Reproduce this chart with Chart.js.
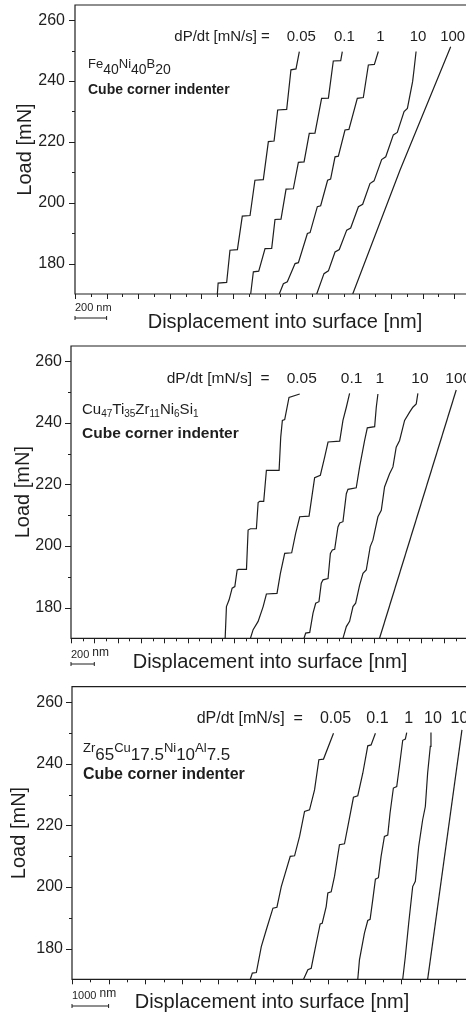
<!DOCTYPE html>
<html>
<head>
<meta charset="utf-8">
<script src="https://cdn.jsdelivr.net/npm/chart.js@4.4.1/dist/chart.umd.min.js"></script>
<style>
  html, body { margin: 0; padding: 0; background: #fff; overflow: hidden; }
  canvas { display: block; }
</style>
</head>
<body>
<canvas id="fe" width="466" height="340"></canvas>
<canvas id="cu" width="466" height="340"></canvas>
<canvas id="zr" width="466" height="335"></canvas>
<script>
/* Load–displacement curves at five loading rates, three glasses */

var INK = '#1e1e1e';
var FONT = '"Liberation Sans", Arial, Helvetica, sans-serif';

var RATES = ['0.05', '0.1', '1', '10', '100'];
var LOAD_MIN = 170;
var LOAD_MAX = 265;
var LOAD_STEP = 10;
var RATE_LABEL_LOAD = 254.5;

// --- Fe40Ni40B20 (displacement in nm, load in mN) ---
var feX005 = [901, 906, 960, 981, 1028, 1059, 1108, 1139, 1192, 1224, 1260, 1283, 1340, 1367, 1399, 1420];
var feY005 = [170, 173.6, 173.8, 184.4, 184.6, 195.6, 195.8, 207.4, 207.6, 220.1, 220.3, 230.5, 230.7, 243.7, 244, 249.7];
var feX01 = [1112, 1129, 1163, 1203, 1245, 1266, 1304, 1336, 1382, 1414, 1450, 1483, 1519, 1561, 1604, 1635, 1682, 1692];
var feY01 = [170, 177.3, 177.5, 184.9, 185, 194.5, 194.6, 204.5, 204.6, 213.3, 213.4, 222.8, 222.9, 234.3, 234.4, 246.6, 246.7, 249.7];
var feX1 = [1293, 1319, 1344, 1393, 1414, 1471, 1488, 1534, 1555, 1599, 1618, 1646, 1667, 1709, 1734, 1787, 1825, 1857, 1895, 1920];
var feY1 = [170, 173.4, 174, 180, 180.3, 189.9, 190.2, 198.7, 199, 207.4, 207.8, 215.1, 215.3, 223.9, 224.1, 234.3, 234.6, 245.3, 245.5, 249.7];
var feX10 = [1530, 1576, 1604, 1646, 1673, 1720, 1745, 1794, 1821, 1867, 1893, 1941, 1967, 2015, 2040, 2083, 2104, 2137, 2146, 2159];
var feY10 = [170, 176.7, 177.6, 183.8, 184.6, 191, 191.7, 198.7, 199.5, 206.3, 207.2, 214.2, 215.1, 222.3, 223.1, 230, 231, 239.8, 243.7, 249.7];
var feX100 = [1758, 2057, 2378];
var feY100 = [170, 210.7, 251.3];

// --- Cu47Ti35Zr11Ni6Si1 ---
var cuX005 = [1323, 1334, 1357, 1383, 1406, 1426, 1440, 1506, 1520, 1540, 1591, 1606, 1620, 1654, 1677, 1786, 1800, 1814, 1834, 1871, 1963];
var cuY005 = [170, 180.3, 182.5, 186.3, 186.8, 192.2, 192.4, 192.4, 205.2, 205.6, 205.6, 214.1, 214.5, 214.5, 224.6, 224.6, 235.4, 240.8, 241.1, 248.3, 249.4];
var cuX01 = [1540, 1563, 1606, 1649, 1677, 1768, 1797, 1834, 1894, 1928, 1963, 2043, 2063, 2091, 2140, 2177, 2206, 2306, 2334, 2363, 2391];
var cuY01 = [170, 172.8, 175.5, 180.3, 184.4, 184.6, 191.1, 197.6, 197.8, 204.1, 209.5, 209.7, 214.9, 222.2, 223, 228.9, 233.8, 234.1, 240.8, 245.1, 249.6];
var cuX1 = [2000, 2014, 2049, 2077, 2100, 2128, 2148, 2163, 2206, 2226, 2243, 2263, 2291, 2306, 2334, 2363, 2377, 2448, 2477, 2520, 2543, 2606, 2620, 2634];
var cuY1 = [170, 171.7, 171.9, 178.2, 181.4, 181.9, 187.9, 189, 189.4, 197.6, 198.7, 198.9, 206.2, 207.5, 207.9, 217, 218.4, 218.9, 225.7, 234.3, 238.4, 238.8, 245.1, 249.4];
var cuX10 = [2334, 2363, 2391, 2420, 2443, 2477, 2506, 2534, 2568, 2591, 2634, 2663, 2691, 2734, 2763, 2791, 2820, 2863, 2906, 2934, 2963, 2977];
var cuY10 = [170, 173.8, 175.5, 180.3, 181.4, 187.3, 191.1, 192.2, 199.8, 201.9, 209.5, 211.6, 219.2, 223.5, 225.7, 232.1, 234.3, 240.8, 243.5, 245.1, 246.2, 249.6];
var cuX100 = [2648, 3306];
var cuY100 = [170, 250.7];

// --- Zr65Cu17.5Ni10Al7.5 ---
var zrX005 = [4872, 4927, 5036, 5172, 5309, 5490, 5599, 5718, 5963, 6081, 6218, 6354, 6490, 6627, 6745, 6872, 7145];
var zrY005 = [170, 172, 172.2, 180.6, 186.1, 193.1, 193.4, 200.1, 209.9, 210.1, 216.4, 224.5, 225, 231.5, 241.3, 241.5, 249.9];
var zrX01 = [6327, 6445, 6536, 6672, 6781, 6836, 6945, 6990, 7081, 7172, 7308, 7445, 7536, 7690, 7808, 7945, 8081, 8172, 8290];
var zrY01 = [170, 173.1, 173.6, 181.7, 188, 188.2, 193.6, 198, 198.4, 203.4, 213.7, 214, 219.6, 229.1, 229.6, 236.9, 245.8, 246.1, 249.9];
var zrX1 = [7808, 7854, 7990, 8081, 8145, 8217, 8290, 8372, 8445, 8536, 8627, 8690, 8781, 8872, 8945, 9036, 9108, 9145];
var zrY1 = [170, 176.3, 185, 189.1, 189.5, 195.8, 202.5, 203, 209.9, 216.4, 216.8, 224, 232.1, 232.6, 239.1, 247.6, 248, 250.1];
var zrX10 = [9036, 9108, 9199, 9308, 9381, 9472, 9581, 9654, 9717, 9763, 9790, 9808];
var zrY10 = [170, 177.4, 188.2, 200.1, 201.8, 213.1, 221.8, 226.1, 237, 242.4, 245.6, 250.1];
var zrX100 = [9717, 10654];
var zrY100 = [170, 251];

// alloy names: [text, isSubscript]
var FE_FORMULA = [['Fe', 0], ['40', 1], ['Ni', 0], ['40', 1], ['B', 0], ['20', 1]];
var CU_FORMULA = [['Cu', 0], ['47', 1], ['Ti', 0], ['35', 1], ['Zr', 0], ['11', 1], ['Ni', 0], ['6', 1], ['Si', 0], ['1', 1]];
var ZR_FORMULA = [['Zr', 0], ['65', 1], ['Cu', 0], ['17.5', 1], ['Ni', 0], ['10', 1], ['Al', 0], ['7.5', 1]];

function toPoints(xs, ys) {
  return xs.map(function (x, i) { return { x: x, y: ys[i] }; });
}

function font(size, bold) {
  return (bold ? 'bold ' : '') + size + 'px ' + FONT;
}

var decorPlugin = {
  id: 'decor',
  afterDraw: function (chart, args, o) {
    var ctx = chart.ctx, a = chart.chartArea;
    var xs = chart.scales.x, ys = chart.scales.y;
    ctx.save();
    ctx.strokeStyle = INK;
    ctx.fillStyle = INK;
    ctx.lineWidth = 1.2;

    // frame: top, left, bottom (right edge is cut off)
    ctx.beginPath();
    ctx.moveTo(a.right, a.top);
    ctx.lineTo(a.left, a.top);
    ctx.lineTo(a.left, a.bottom);
    ctx.lineTo(a.right, a.bottom);
    ctx.stroke();

    // y tick marks, outward
    ctx.lineWidth = 1;
    ctx.beginPath();
    for (var v = LOAD_MIN + LOAD_STEP; v <= 260; v += LOAD_STEP) {
      var py = Math.round(ys.getPixelForValue(v)) + 0.5;
      var len = v % 20 === 0 ? 6 : 3;
      ctx.moveTo(a.left - len, py);
      ctx.lineTo(a.left, py);
    }
    // x tick marks, outward, no labels
    for (var i = 0; ; i++) {
      var d = i * o.minorStep;
      var px = Math.round(xs.getPixelForValue(d)) + 0.5;
      if (px > a.right) break;
      ctx.moveTo(px, a.bottom);
      ctx.lineTo(px, a.bottom + (i % 2 === 0 ? 5 : 3));
    }
    ctx.stroke();

    // scale bar
    var sb = o.scaleBar;
    var x0 = xs.getPixelForValue(0), x1 = xs.getPixelForValue(sb.nm);
    ctx.beginPath();
    ctx.moveTo(x0, sb.barY); ctx.lineTo(x1, sb.barY);
    ctx.moveTo(x0, sb.barY - 2); ctx.lineTo(x0, sb.barY + 2);
    ctx.moveTo(x1, sb.barY - 2); ctx.lineTo(x1, sb.barY + 2);
    ctx.stroke();
    ctx.textAlign = 'left';
    ctx.textBaseline = 'alphabetic';
    ctx.font = font(sb.size);
    ctx.fillText(sb.num, x0, sb.textY);
    var w = ctx.measureText(sb.num).width;
    ctx.font = font(sb.unitSize);
    ctx.fillText('nm', x0 + w + sb.gap, sb.textY - sb.unitRaise);

    // x axis title
    ctx.font = font(20);
    ctx.textAlign = 'center';
    ctx.fillText('Displacement into surface [nm]', o.xTitle.x, o.xTitle.y);

    // loading-rate labels above each curve
    ctx.font = font(o.rateSize);
    ctx.textBaseline = 'middle';
    var ly = ys.getPixelForValue(RATE_LABEL_LOAD);
    var firstLeft = 0;
    chart.data.datasets.forEach(function (ds, k) {
      var last = ds.data[ds.data.length - 1];
      var cx = xs.getPixelForValue(last.x) + 2;
      ctx.textAlign = 'center';
      ctx.fillText(RATES[k], cx, ly);
      if (k === 0) firstLeft = cx - ctx.measureText(RATES[k]).width / 2;
    });
    ctx.textAlign = 'right';
    ctx.fillText(o.rateText, firstLeft - 17, ly);

    // alloy composition
    var f = o.formula, fx = f.x;
    ctx.textAlign = 'left';
    ctx.textBaseline = 'alphabetic';
    f.parts.forEach(function (p) {
      ctx.font = font(p[1] ? f.subSize : f.elSize);
      ctx.fillText(p[0], fx, f.y + (p[1] ? f.drop : 0));
      fx += ctx.measureText(p[0]).width;
    });

    ctx.font = font(o.indenter.size, true);
    ctx.fillText('Cube corner indenter', o.indenter.x, o.indenter.y);
    ctx.restore();
  }
};

function makePanel(canvasId, p) {
  var el = document.getElementById(canvasId);
  var datasets = p.curves.map(function (c, i) {
    return {
      label: RATES[i] + ' mN/s',
      data: toPoints(c[0], c[1]),
      borderColor: INK,
      borderWidth: 1.2,
      pointRadius: 0,
      tension: 0,
      fill: false
    };
  });
  return new Chart(el, {
    type: 'line',
    data: { datasets: datasets },
    options: {
      responsive: false,
      animation: false,
      layout: { padding: { left: 0, right: 0, top: p.top, bottom: p.bottom } },
      plugins: {
        legend: { display: false },
        tooltip: { enabled: false },
        decor: p.decor
      },
      scales: {
        x: { type: 'linear', display: false, min: 0, max: p.xMax },
        y: {
          type: 'linear',
          min: LOAD_MIN,
          max: LOAD_MAX,
          afterFit: function (s) {
            s.width = p.left;
            s.paddingTop = 0;
            s.paddingBottom = 0;
          },
          grid: { display: false, drawTicks: false },
          border: { display: false },
          ticks: {
            stepSize: LOAD_STEP,
            includeBounds: false,
            color: INK,
            font: { family: FONT, size: 16 },
            padding: p.tickPad,
            callback: function (v) { return v % 20 === 0 ? v : ''; }
          },
          title: {
            display: true,
            text: 'Load [mN]',
            color: INK,
            font: { family: FONT, size: 20 },
            padding: { top: p.titlePad, bottom: 0 }
          }
        }
      }
    },
    plugins: [decorPlugin]
  });
}

makePanel('fe', {
  left: 75, top: 5, bottom: 46, xMax: 2475, tickPad: 10, titlePad: 13,
  curves: [[feX005, feY005], [feX01, feY01], [feX1, feY1], [feX10, feY10], [feX100, feY100]],
  decor: {
    minorStep: 100,
    scaleBar: { nm: 200, num: '200', size: 11, unitSize: 11, gap: 3, unitRaise: 0, textY: 311, barY: 318 },
    xTitle: { x: 285, y: 328 },
    rateSize: 15, rateText: 'dP/dt [mN/s] =',
    formula: { x: 88, y: 68, parts: FE_FORMULA, elSize: 13, subSize: 14, drop: 6 },
    indenter: { x: 88, y: 94, size: 14 }
  }
});

makePanel('cu', {
  left: 71, top: 6, bottom: 41.7, xMax: 3390, tickPad: 9, titlePad: 11.5,
  curves: [[cuX005, cuY005], [cuX01, cuY01], [cuX1, cuY1], [cuX10, cuY10], [cuX100, cuY100]],
  decor: {
    minorStep: 100,
    scaleBar: { nm: 200, num: '200', size: 11, unitSize: 12, gap: 3, unitRaise: 2, textY: 318, barY: 324 },
    xTitle: { x: 270, y: 328 },
    rateSize: 15.5, rateText: 'dP/dt [mN/s]  =',
    formula: { x: 82, y: 74, parts: CU_FORMULA, elSize: 15, subSize: 10, drop: 3 },
    indenter: { x: 82, y: 98, size: 15.5 }
  }
});

makePanel('zr', {
  left: 72, top: 6.7, bottom: 35.7, xMax: 10765, tickPad: 9, titlePad: 7.5,
  curves: [[zrX005, zrY005], [zrX01, zrY01], [zrX1, zrY1], [zrX10, zrY10], [zrX100, zrY100]],
  decor: {
    minorStep: 500,
    scaleBar: { nm: 1000, num: '1000', size: 11, unitSize: 12, gap: 3, unitRaise: 2, textY: 319, barY: 326 },
    xTitle: { x: 272, y: 328 },
    rateSize: 16, rateText: 'dP/dt [mN/s]  =',
    formula: { x: 83, y: 72, parts: ZR_FORMULA, elSize: 13, subSize: 17, drop: 8 },
    indenter: { x: 83, y: 99, size: 16 }
  }
});
</script>
</body>
</html>
